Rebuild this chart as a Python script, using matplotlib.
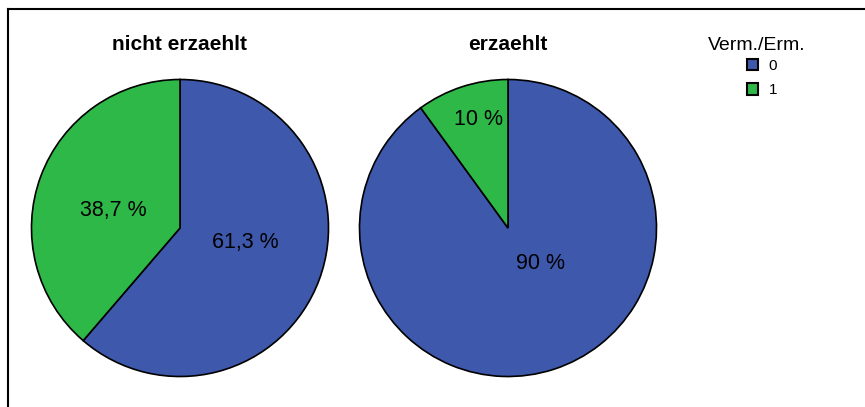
import matplotlib
matplotlib.use("Agg")
import matplotlib.pyplot as plt
from matplotlib.patches import Patch
from matplotlib.lines import Line2D

plt.rcParams["font.family"] = ["Liberation Sans", "DejaVu Sans"]

groups = ["nicht erzaehlt", "erzaehlt"]
categories = ["0", "1"]
shares = [[61.3, 38.7], [90.0, 10.0]]
share_labels = [["61,3 %", "38,7 %"], ["90 %", "10 %"]]
colors = ["#3E58AC", "#2EB848"]

# label positions inside each pie (axes data units, SPSS-like placement)
label_pos = [[(0.44, -0.10), (-0.45, 0.12)], [(0.22, -0.24), (-0.20, 0.73)]]

W, H = 865, 407
fig = plt.figure(figsize=(W / 100, H / 100), dpi=100)

centers_px = [(180, 228), (508, 228)]
radius_px = 150

for i, (cx, cy) in enumerate(centers_px):
    ax = fig.add_axes([(cx - radius_px) / W, 1 - (cy + radius_px) / H,
                       2 * radius_px / W, 2 * radius_px / H])
    ax.pie(shares[i], colors=colors, startangle=90, counterclock=False,
           wedgeprops=dict(edgecolor="black", linewidth=1.2))
    ax.set_xlim(-1.01, 1.01)
    ax.set_ylim(-1.01, 1.01)
    ax.set_aspect("equal")
    ax.axis("off")
    for lab, (x, y) in zip(share_labels[i], label_pos[i]):
        ax.text(x, y, lab, ha="center", va="center", fontsize=15.5)
    fig.text(cx / W, 1 - 45 / H, groups[i], ha="center", va="center",
             fontsize=15, fontweight="bold")

# legend: title as separate text, entries below it
fig.text(757 / W, 1 - 45 / H, "Verm./Erm.", ha="center", va="center", fontsize=14)
handles = [Patch(facecolor=c, edgecolor="black", linewidth=1.5) for c in colors]
leg = fig.legend(handles, categories, loc="upper left",
                 bbox_to_anchor=(742 / W, 1 - 54 / H), frameon=False,
                 fontsize=11, handlelength=0.75, handleheight=0.75,
                 handletextpad=0.7, labelspacing=0.7, borderpad=0.3,
                 borderaxespad=0)

fig.add_artist(Line2D([8 / W, 1], [1 - 9 / H, 1 - 9 / H], color="black", linewidth=1.5))
fig.add_artist(Line2D([8 / W, 8 / W], [0, 1 - 9 / H], color="black", linewidth=1.5))

fig.savefig("out.png", dpi=100)
